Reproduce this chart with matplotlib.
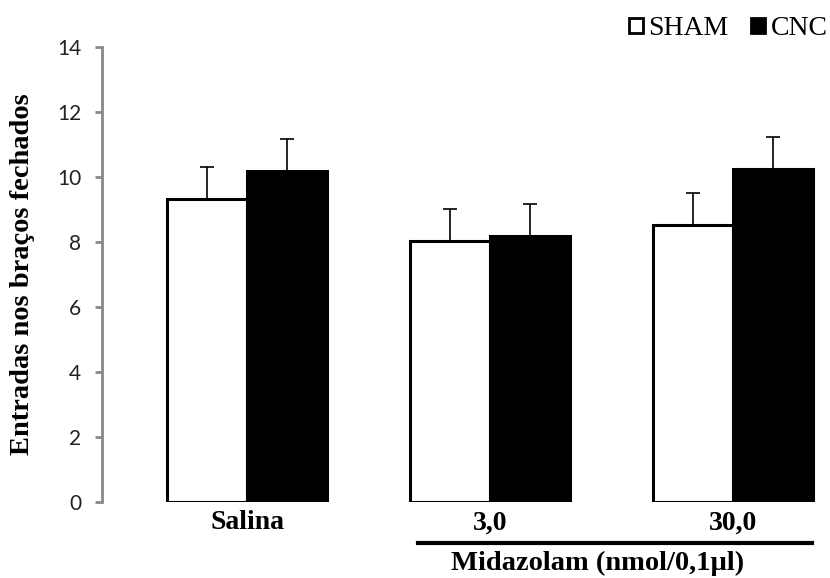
import numpy as np
import matplotlib
matplotlib.use("Agg")
import matplotlib.pyplot as plt
from matplotlib.patches import Patch

groups = ["Salina", "3,0", "30,0"]
sham = [9.32, 8.03, 8.52]
sham_err = [1.0, 1.0, 1.0]
cnc = [10.19, 8.19, 10.26]
cnc_err = [0.97, 0.97, 0.97]

fig = plt.figure(figsize=(8.3, 5.78), dpi=100)
ax = fig.add_axes([0.1229, 0.1315, 0.877, 0.787])

x = np.arange(len(groups))
w = 0.33
ax.bar(x - w / 2, sham, w, color="white", edgecolor="black", linewidth=2.2,
       yerr=[np.zeros(3), sham_err], error_kw=dict(ecolor="black", elinewidth=1.2, capsize=5, capthick=1.2))
ax.bar(x + w / 2, cnc, w, color="black", edgecolor="black", linewidth=2.2,
       yerr=[np.zeros(3), cnc_err], error_kw=dict(ecolor="black", elinewidth=1.2, capsize=5, capthick=1.2))

ax.set_xlim(-0.597, 2.399)
ax.set_ylim(0, 14)
ax.set_yticks(range(0, 15, 2))
for s in ["top", "right", "bottom"]:
    ax.spines[s].set_visible(False)
ax.spines["left"].set_color("#888888")
ax.spines["left"].set_linewidth(2)
ax.tick_params(axis="y", colors="#888888", length=5, width=2, pad=10, labelcolor="#222222")
for t in ax.get_yticklabels():
    t.set_fontfamily("Lato")
    t.set_fontsize(15)

ax.set_xticks(x)
ax.set_xticklabels(groups, fontfamily="Liberation Serif", fontweight="bold", fontsize=20)
ax.tick_params(axis="x", length=0, pad=6)

ax.set_ylabel("Entradas nos braços fechados", fontfamily="Liberation Serif",
              fontweight="bold", fontsize=20.5)
ax.yaxis.set_label_coords(-0.092, 0.5)

# Midazolam bracket
tr = ax.get_xaxis_transform()
ax.plot([0.704, 2.325], [-0.090, -0.090], color="black", lw=3, transform=tr, clip_on=False)
ax.text(1.444, -0.135, "Midazolam (nmol/0,1µl)", transform=tr, ha="center", va="center",
        fontfamily="Liberation Serif", fontweight="bold", fontsize=20.5)

handles = [Patch(facecolor="white", edgecolor="black", linewidth=2, label="SHAM"),
           Patch(facecolor="black", edgecolor="black", linewidth=2, label="CNC")]
fig.legend(handles=handles, loc="upper right", bbox_to_anchor=(1.027, 1.015), ncol=2,
           frameon=False, handlelength=0.5, handleheight=0.5, handletextpad=0.2,
           columnspacing=0.8, prop=dict(family="Liberation Serif", size=20))

fig.savefig("out.png", dpi=100)
